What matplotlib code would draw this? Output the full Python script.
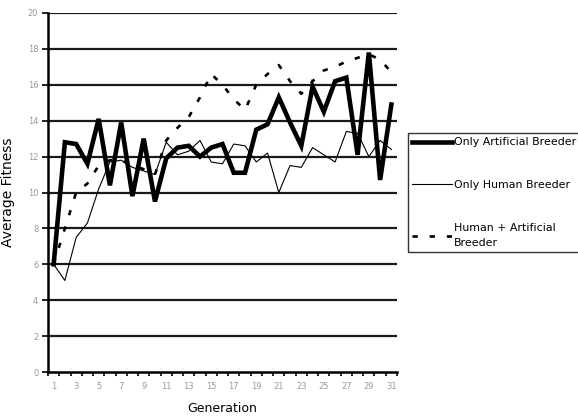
import matplotlib
matplotlib.use("Agg")
import matplotlib.pyplot as plt
import numpy as np

generations = list(range(1, 32))
only_artificial = [6.0, 12.8, 12.7, 11.6, 14.1, 10.4, 13.9, 9.8, 13.0, 9.5,
                   11.9, 12.5, 12.6, 12.0, 12.5, 12.7, 11.1, 11.1, 13.5, 13.8,
                   15.3, 13.9, 12.6, 15.9, 14.5, 16.2, 16.4, 12.1, 17.8, 10.7, 14.9]
only_human = [6.0, 5.1, 7.5, 8.3, 10.2, 11.7, 11.8, 11.4, 11.2, 11.0,
              12.8, 12.1, 12.3, 12.9, 11.7, 11.6, 12.7, 12.6, 11.7, 12.2,
              10.0, 11.5, 11.4, 12.5, 12.1, 11.7, 13.4, 13.3, 12.0, 12.9, 12.4]
human_artificial = [6.0, 8.0, 10.0, 10.5, 11.5, 11.8, 11.8, 11.5, 11.3, 11.0,
                    12.9, 13.6, 14.2, 15.3, 16.6, 16.0, 15.2, 14.6, 16.0, 16.6,
                    17.1, 16.2, 15.5, 16.2, 16.8, 17.0, 17.3, 17.5, 17.7, 17.4, 16.7]
series_labels = ["Only Artificial Breeder", "Only Human Breeder", "Human + Artificial\nBreeder"]
y_ticks = list(range(0, 21, 2))
x_tick_labels = list(range(1, 32, 2))

plt.rcParams['font.family'] = ['DejaVu Sans']

fig = plt.figure(figsize=(5.78, 4.16), dpi=100)
ax = fig.add_axes([48/578, 44/416, (397-48)/578, (372-13)/416])

for y in y_ticks[1:]:
    ax.axhline(y, color='#1a1a1a', lw=1.6, zorder=1)

l1, = ax.plot(generations, only_artificial, color='black', lw=3.3, zorder=4,
              solid_joinstyle='miter')
l2, = ax.plot(generations, only_human, color='black', lw=0.8, zorder=3)
l3, = ax.plot(generations, human_artificial, color='black', lw=1.9,
              linestyle=(0, (2, 4.5)), zorder=2)

ax.set_xlim(0.5, 31.5)
ax.set_ylim(0, 20)
ax.set_yticks(y_ticks)
ax.set_yticklabels([str(v) for v in y_ticks])
ax.set_xticks(x_tick_labels)
ax.set_xticklabels([str(v) for v in x_tick_labels])
ax.set_xticks(np.arange(0.5, 32, 1), minor=True)
ax.tick_params(axis='x', which='major', length=0, labelsize=6, labelcolor='#999999', pad=7)
ax.tick_params(axis='x', which='minor', length=3, width=1.2, direction='out', color='black')
ax.tick_params(axis='y', which='major', length=4, width=1.2, labelsize=6,
               labelcolor='#999999', color='black', direction='out', pad=3)

for s in ['top', 'right']:
    ax.spines[s].set_visible(False)
ax.spines['left'].set_linewidth(1.8)
ax.spines['bottom'].set_linewidth(1.8)

ax.set_xlabel("Generation", fontsize=9, labelpad=8)
ax.set_ylabel("Average Fitness", fontsize=10, labelpad=9)

leg = fig.legend([l1, l2, l3], series_labels, loc='upper left',
                 bbox_to_anchor=(408/578, 1 - 133/416), bbox_transform=fig.transFigure,
                 prop={'family': 'DejaVu Sans', 'size': 7.9}, frameon=True, fancybox=False,
                 edgecolor='black', handlelength=3.6, handletextpad=0.15, labelspacing=3.0,
                 borderpad=0.4, borderaxespad=0)
leg.get_frame().set_linewidth(1.0)
for t in leg.get_texts():
    t.set_linespacing(1.6)

fig.savefig("out.png", dpi=100)
